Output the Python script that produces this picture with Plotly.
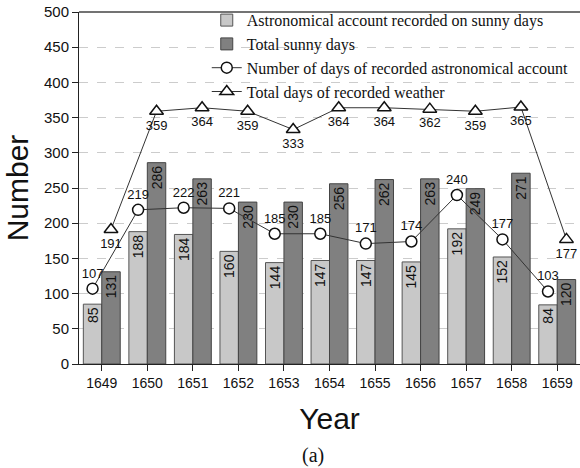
import plotly.graph_objects as go

years = [1649, 1650, 1651, 1652, 1653, 1654, 1655, 1656, 1657, 1658, 1659]
astro_sunny = [85, 188, 184, 160, 144, 147, 147, 145, 192, 152, 84]
total_sunny = [131, 286, 263, 230, 230, 256, 262, 263, 249, 271, 120]
astro_days = [107, 219, 222, 221, 185, 185, 171, 174, 240, 177, 103]
weather_days = [191, 359, 364, 359, 333, 364, 364, 362, 359, 365, 177]

sans = "Liberation Sans, Arial, sans-serif"
serif = "Liberation Serif, Times New Roman, serif"

BW = 0.405  # bar width (category units)
light_x = [y - BW / 2 for y in years]
dark_x = [y + BW / 2 for y in years]

fig = go.Figure()
fig.add_trace(go.Bar(
    x=light_x, y=astro_sunny, width=BW, name="Astronomical account recorded on sunny days",
    marker=dict(color="#c8c8c8", line=dict(color="#555555", width=1)),
    text=[str(v) for v in astro_sunny], textposition="inside", insidetextanchor="end",
    textangle=-90, constraintext="none",
    textfont=dict(family=sans, size=14, color="#111111"),
))
fig.add_trace(go.Bar(
    x=dark_x, y=total_sunny, width=BW, name="Total sunny days",
    marker=dict(color="#808080", line=dict(color="#444444", width=1)),
    text=[str(v) for v in total_sunny], textposition="inside", insidetextanchor="end",
    textangle=-90, constraintext="none",
    textfont=dict(family=sans, size=14, color="#111111"),
))
fig.add_trace(go.Scatter(
    x=light_x, y=astro_days, name="Number of days of recorded astronomical account",
    mode="lines+markers+text",
    line=dict(color="#333333", width=1),
    marker=dict(symbol="circle", size=11, color="white", line=dict(color="#111111", width=1.5)),
    text=[str(v) for v in astro_days], textposition="top center",
    textfont=dict(family=sans, size=13, color="#111111"),
))
fig.add_trace(go.Scatter(
    x=dark_x, y=weather_days, name="Total days of recorded weather",
    mode="lines+markers+text",
    line=dict(color="#333333", width=1),
    marker=dict(symbol="triangle-up", size=12, color="white", line=dict(color="#111111", width=1.5)),
    text=[str(v) for v in weather_days], textposition="bottom center",
    textfont=dict(family=sans, size=13, color="#111111"),
))

fig.update_layout(
    width=580, height=468,
    margin=dict(l=79, r=0, t=12, b=104),
    paper_bgcolor="white", plot_bgcolor="white",
    barmode="overlay",
    showlegend=True,
    legend=dict(
        x=0.255, y=1.025, xanchor="left", yanchor="top",
        bgcolor="rgba(0,0,0,0)", borderwidth=0,
        font=dict(family=serif, size=16, color="#111111"),
        tracegroupgap=0, itemwidth=30, traceorder="normal",
    ),
    xaxis=dict(
        range=[years[0] - 0.5, years[-1] + 0.5],
        tickmode="array", tickvals=years, ticktext=[str(y) for y in years],
        showline=True, linecolor="#222222", linewidth=1,
        ticks="outside", ticklen=6, tickcolor="#222222",
        tickfont=dict(family=sans, size=14, color="#111111"),
        title=dict(text="Year", font=dict(family=sans, size=30, color="#111111"), standoff=18),
        showgrid=False, zeroline=False,
    ),
    yaxis=dict(
        range=[0, 500], dtick=50,
        showline=True, linecolor="#222222", linewidth=1,
        ticks="outside", ticklen=6, tickcolor="#222222",
        tickfont=dict(family=sans, size=15, color="#111111"),
        title=dict(text="Number", font=dict(family=sans, size=30, color="#111111"), standoff=6),
        showgrid=True, gridcolor="#cccccc", griddash="dash", gridwidth=1,
        zeroline=False,
    ),
    shapes=[dict(type="line", xref="paper", yref="paper", x0=0, x1=1, y0=1, y1=1,
                 line=dict(color="#444444", width=1.5))],
    annotations=[dict(text="(a)", xref="paper", yref="paper", x=0.467, y=-0.26,
                      xanchor="center", yanchor="middle", showarrow=False,
                      font=dict(family=serif, size=20, color="#111111"))],
)

fig.write_html("out.html")
